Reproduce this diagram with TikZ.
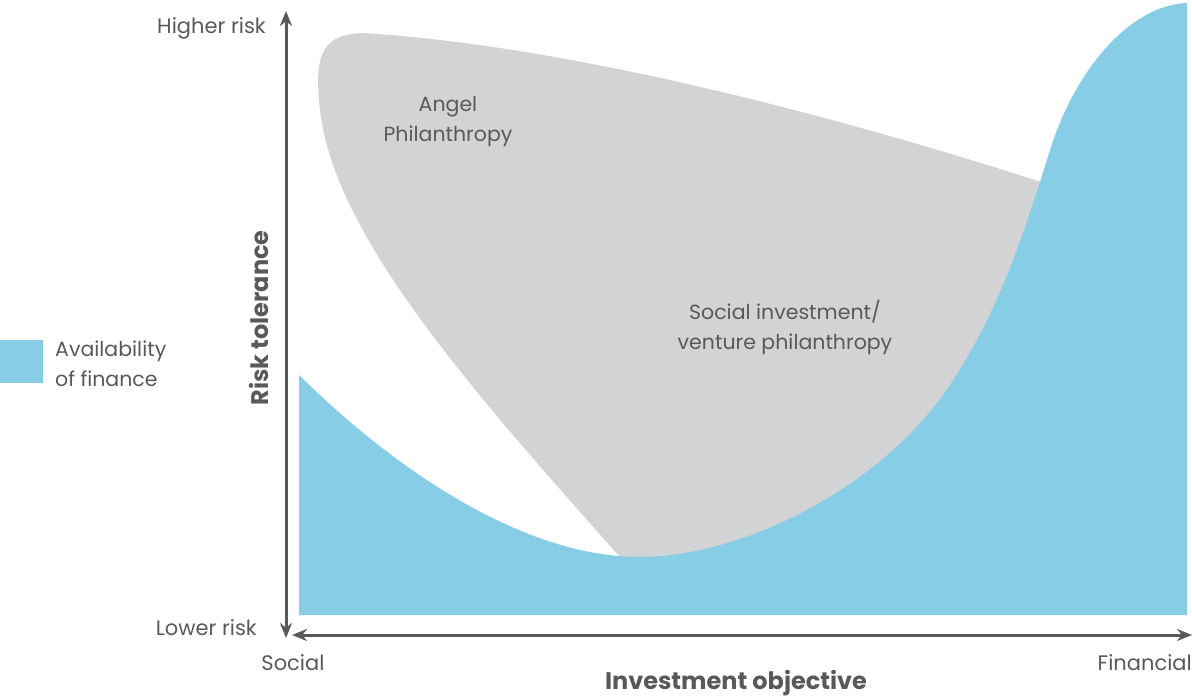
\documentclass[tikz,border=0pt]{standalone}
\usepackage{fontspec}
\setmainfont{Poppins}
\usetikzlibrary{arrows.meta}
\definecolor{finblue}{RGB}{135,205,229}
\definecolor{zonegray}{RGB}{209,211,212}
\definecolor{inkgray}{RGB}{88,89,91}
\tikzset{
  axisline/.style={line width=3pt, draw=inkgray, {Stealth[length=15pt,width=12pt]}-{Stealth[length=15pt,width=12pt]}},
  ticktext/.style={text=inkgray, font=\fontsize{21}{26}\selectfont, inner sep=0pt},
  zonetext/.style={text=inkgray, font=\fontsize{20.5}{30}\selectfont, align=center, inner sep=0pt},
  axistitle/.style={text=inkgray, font=\fontsize{24}{28}\selectfont\bfseries, inner sep=0pt}
}

\begin{document}
\begin{tikzpicture}[x=1pt, y=-1pt]
  \useasboundingbox (0,0) rectangle (1192,697);

  % grey zone, lower part hidden by the blue area
  \fill[zonegray] (620,557) .. controls (455,372) and (328,225) .. (319,100)
    .. controls (315,52) and (324,35) .. (362,33)
    .. controls (560,45) and (820,110) .. (1060,188)
    -- (1100,600) -- (620,600) -- cycle;

  % availability of finance
  \fill[finblue] (299,615) -- (299,375)
    .. controls (390,465) and (520,557) .. (640,557)
    .. controls (740,557) and (880,490) .. (950,385)
    .. controls (1000,310) and (1025,230) .. (1050,150)
    .. controls (1075,70) and (1130,5) .. (1187,3)
    -- (1187,615) -- cycle;

  % axes
  \coordinate (ytop) at (286,11);
  \coordinate (ybot) at (286,638);
  \coordinate (xleft) at (292,635);
  \coordinate (xright) at (1192,635);
  \draw[axisline] (ybot) -- (ytop);
  \draw[axisline] (xleft) -- (xright);

  \node[ticktext, anchor=east] (high) at (266,28) {Higher risk};
  \node[ticktext, anchor=east] (low) at (257,628) {Lower risk};
  \node[ticktext] (social) at (293,663) {Social};
  \node[ticktext, anchor=east] (financial) at (1192,663) {Financial};
  \node[axistitle] (xtitle) at (736,683) {Investment objective};
  \node[axistitle, rotate=90] (ytitle) at (259,318) {Risk tolerance};

  \node[zonetext] (angel) at (448,122) {Angel\\Philanthropy};
  \node[zonetext] (venture) at (785,328) {Social investment/\\venture philanthropy};

  % legend
  \fill[finblue] (0,340) rectangle (43,383);
  \node[zonetext, align=left, anchor=west] (legend) at (55,364) {Availability\\of finance};
\end{tikzpicture}
\end{document}
